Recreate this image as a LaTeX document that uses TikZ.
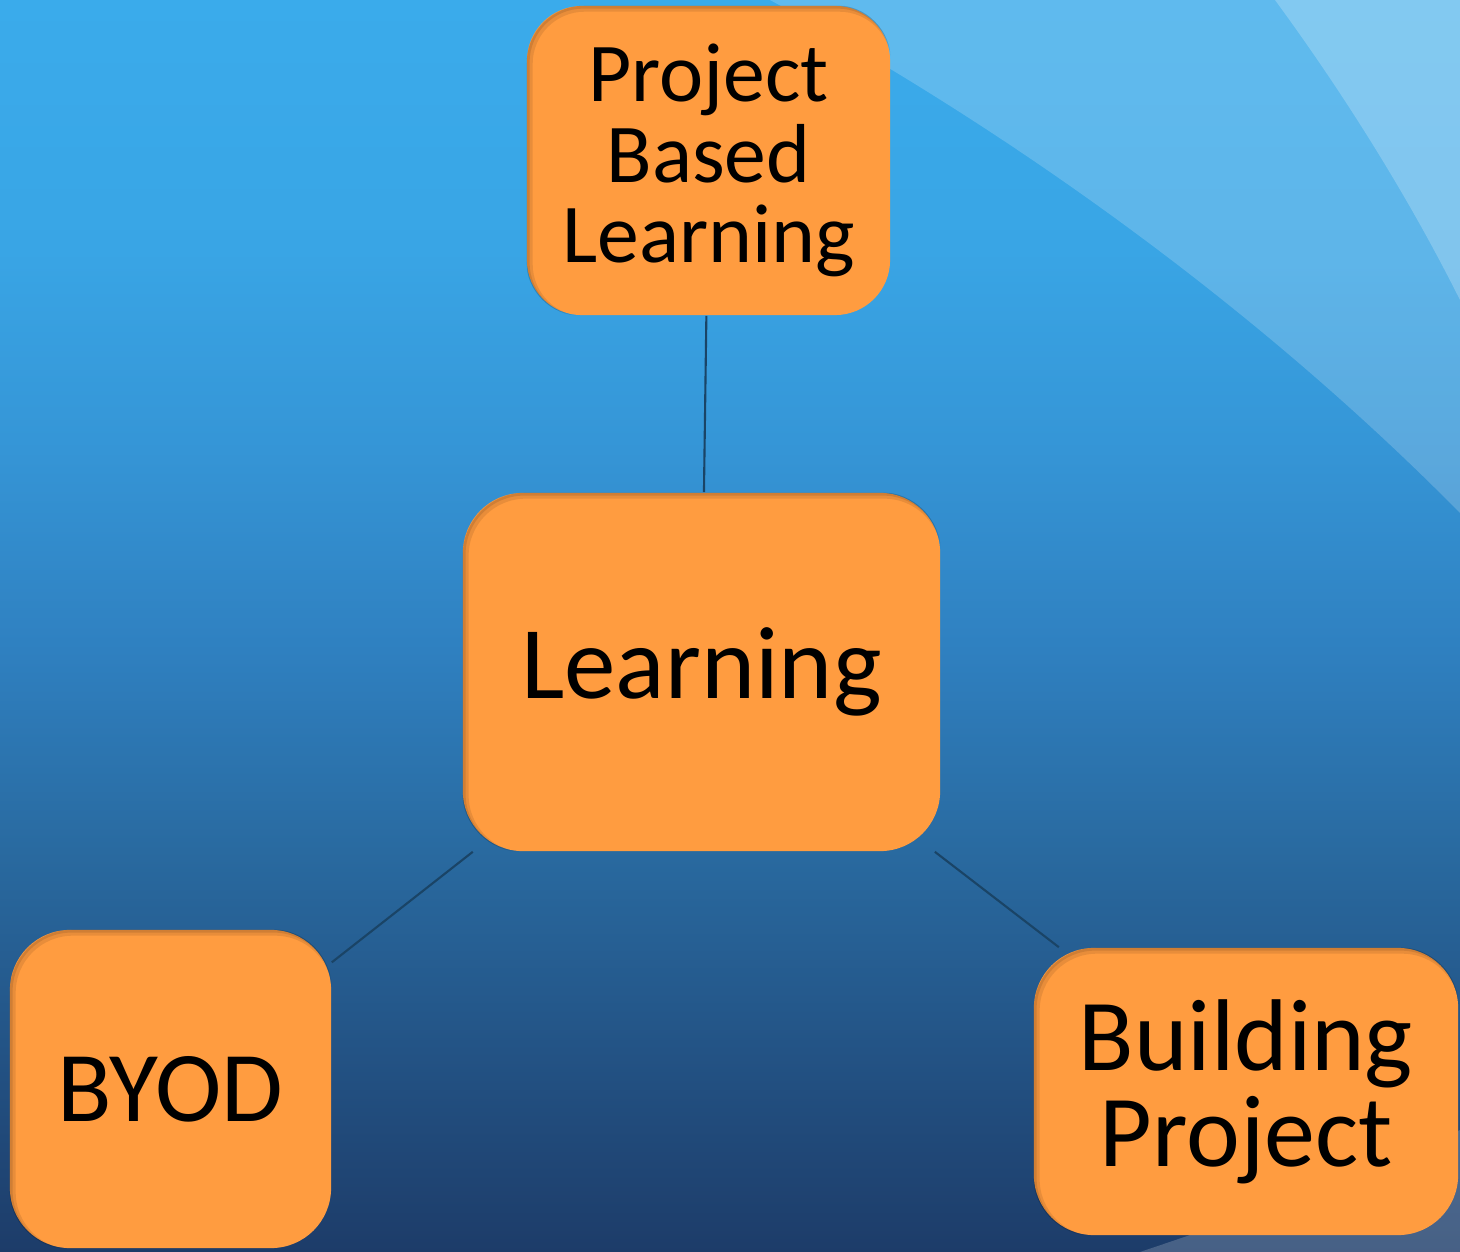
\documentclass[tikz,border=0pt]{standalone}
\usepackage{fontspec}
\setmainfont{Carlito}
\usetikzlibrary{calc}
\definecolor{boxorange}{HTML}{FF9C40}
\definecolor{connblue}{HTML}{1A4466}
\definecolor{bgA}{HTML}{3AABEB}
\definecolor{bgB}{HTML}{39A5E5}
\definecolor{bgC}{HTML}{3595D6}
\definecolor{bgD}{HTML}{2F80C0}
\definecolor{bgE}{HTML}{296AA0}
\definecolor{bgF}{HTML}{235385}
\definecolor{bgG}{HTML}{1D3C69}
\newcommand\innershade[2]{%
  \begin{scope}
    \clip[rounded corners=#2] (#1.north west) rectangle (#1.south east);
    \draw[rounded corners=#2, line width=1.7pt, black, opacity=0.09]
      ($(#1.north west)+(3.5,3.5)$) rectangle ($(#1.south east)+(3.5,3.5)$);
    \draw[rounded corners=#2, line width=0.8pt, black, opacity=0.10]
      ($(#1.north west)+(2,2)$) rectangle ($(#1.south east)+(2,2)$);
  \end{scope}}
\begin{document}
\begin{tikzpicture}[x=0.01cm,y=-0.01cm,
  box/.style={rectangle, rounded corners=0.6cm, fill=boxorange, inner sep=0pt,
    align=center, text=black},
  conn/.style={draw=connblue, line width=0.6pt},
  band/.style={fill=white, draw=none}]
\useasboundingbox (0,0) rectangle (1460,1252);
% background gradient
\shade[top color=bgA, bottom color=bgB] (0,0) rectangle (1460,251);
\shade[top color=bgB, bottom color=bgC] (0,250) rectangle (1460,451);
\shade[top color=bgC, bottom color=bgD] (0,450) rectangle (1460,651);
\shade[top color=bgD, bottom color=bgE] (0,650) rectangle (1460,851);
\shade[top color=bgE, bottom color=bgF] (0,850) rectangle (1460,1051);
\shade[top color=bgF, bottom color=bgG] (0,1050) rectangle (1460,1252);
% light bands
\fill[band, opacity=0.19] (770,0) .. controls (1000,125) and (1250,300) .. (1460,513) -- (1460,0) -- cycle;
\fill[band, opacity=0.22] (1275,0) .. controls (1330,75) and (1400,180) .. (1460,300) -- (1460,0) -- cycle;
\fill[band, opacity=0.19] (1140,1252) .. controls (1250,1215) and (1380,1170) .. (1460,1130) -- (1460,1252) -- cycle;
% nodes
\node[box, minimum width=3.63cm, minimum height=3.09cm, rounded corners=0.55cm,
  font=\fontsize{23.8}{22.8}\selectfont] (pbl) at (708.5,160.5) {Project\\Based\\Learning};
\node[box, minimum width=4.77cm, minimum height=3.58cm,
  font=\fontsize{29.3}{30}\selectfont] (learn) at (701.5,672) {Learning};
\node[box, minimum width=3.21cm, minimum height=3.18cm,
  font=\fontsize{28.5}{30}\selectfont] (byod) at (170.5,1089) {BYOD};
\node[box, minimum width=4.24cm, minimum height=2.87cm,
  font=\fontsize{29}{27.3}\selectfont] (build) at (1246,1091.5) {Building\\Project};
\innershade{pbl}{0.55cm}
\innershade{learn}{0.6cm}
\innershade{byod}{0.6cm}
\innershade{build}{0.6cm}
% connectors
\draw[conn] (pbl) -- (learn);
\draw[conn] (learn) -- (byod);
\draw[conn] (learn) -- (build);
\end{tikzpicture}
\end{document}
